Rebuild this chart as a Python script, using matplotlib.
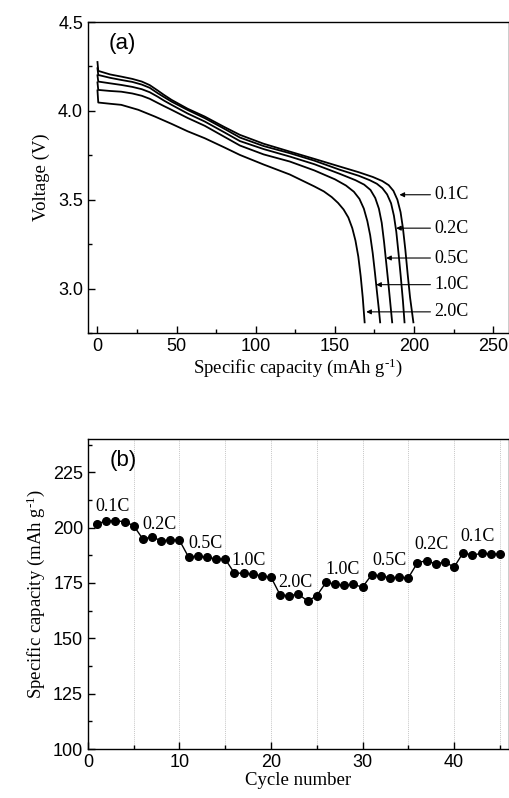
import numpy as np
import matplotlib
matplotlib.use('Agg')
from matplotlib import pyplot as plt
from matplotlib.ticker import MultipleLocator

plt.rcParams['font.family'] = 'Liberation Sans'
plt.rcParams['mathtext.fontset'] = 'custom'
plt.rcParams['mathtext.rm'] = 'Liberation Serif'
plt.rcParams['mathtext.it'] = 'Liberation Serif:italic'
SERIF = 'Liberation Serif'

# (a) curvas de descarga: capacidad (mAh/g) y voltaje (V)
cap_01 = [0, 0.5, 8, 15, 22, 28, 33, 38, 42, 46.8, 57, 67.8, 80, 90, 105, 121.5, 137, 153,
          165, 174, 180, 184, 187, 189.5, 191.5, 193, 194.5, 196, 197.5, 199.6]
v_01 = [4.275, 4.225, 4.205, 4.193, 4.18, 4.165, 4.145, 4.115, 4.09, 4.062, 4.012, 3.968, 3.91,
        3.865, 3.815, 3.771, 3.73, 3.687, 3.655, 3.628, 3.605, 3.582, 3.55, 3.50, 3.43, 3.34,
        3.22, 3.08, 2.95, 2.81]
cap_02 = [0, 0.5, 8, 15, 22, 28, 33, 38, 42, 46.8, 57, 67.8, 80, 90, 105, 121.5, 137, 153,
          165, 172, 176.5, 180, 183, 185.5, 187.3, 188.8, 190.2, 191.6, 193, 194]
v_02 = [4.24, 4.202, 4.186, 4.174, 4.163, 4.148, 4.13, 4.1, 4.078, 4.052, 4.005, 3.959, 3.90,
        3.85, 3.802, 3.762, 3.72, 3.669, 3.635, 3.61, 3.59, 3.565, 3.53, 3.48, 3.41, 3.32,
        3.2, 3.07, 2.93, 2.81]
cap_05 = [0, 0.5, 8, 15, 22, 28, 33, 38, 42, 46.8, 57, 67.8, 80, 90, 105, 121.5, 137, 153,
          163, 168.5, 172.5, 175.5, 177.8, 179.6, 181.1, 182.5, 183.9, 185.1, 186.2]
v_05 = [4.20, 4.165, 4.155, 4.146, 4.135, 4.122, 4.105, 4.08, 4.058, 4.034, 3.985, 3.94, 3.88,
        3.83, 3.785, 3.743, 3.70, 3.646, 3.61, 3.585, 3.555, 3.51, 3.45, 3.37, 3.26, 3.14,
        3.02, 2.91, 2.81]
cap_10 = [0, 0.5, 8, 15, 22, 28, 33, 38, 42, 46.8, 57, 67.8, 80, 90, 105, 121.5, 137, 150,
          157, 162, 165.5, 168.3, 170.5, 172.3, 173.9, 175.3, 176.6, 177.7, 178.6]
v_10 = [4.16, 4.118, 4.112, 4.108, 4.098, 4.085, 4.068, 4.045, 4.027, 4.006, 3.96, 3.916, 3.855,
        3.805, 3.755, 3.715, 3.665, 3.615, 3.58, 3.545, 3.505, 3.45, 3.38, 3.3, 3.2, 3.09,
        2.98, 2.89, 2.81]
cap_20 = [0, 0.5, 8, 15, 25.8, 36.3, 46.8, 57, 67.8, 80, 90, 105, 121.5, 137, 143, 148, 152,
          155.5, 158.5, 161, 163, 164.8, 166.3, 167.6, 168.8]
v_20 = [4.115, 4.047, 4.04, 4.034, 4.006, 3.968, 3.927, 3.885, 3.846, 3.795, 3.752, 3.698, 3.642,
        3.575, 3.547, 3.515, 3.482, 3.445, 3.40, 3.34, 3.27, 3.18, 3.07, 2.95, 2.81]

tasas = ['0.1C', '0.2C', '0.5C', '1.0C', '2.0C']
punta_cap = [190.8, 188.7, 182.4, 176.1, 169.8]   # donde apunta la flecha
punta_v = [3.528, 3.34, 3.172, 3.022, 2.869]
texto_cap = 213

# (b) rate capability
ciclo = np.arange(1, 46)
capac = [201.7, 203.0, 203.0, 202.7, 200.8, 194.8, 195.8, 194.0, 194.5, 194.2,
         186.6, 187.2, 186.5, 185.9, 185.7, 179.4, 179.4, 179.0, 178.2, 177.6,
         169.5, 169.3, 169.9, 166.8, 169.2, 175.2, 174.5, 173.9, 174.3, 173.1,
         178.7, 178.2, 177.3, 177.6, 177.3, 184.1, 185.1, 183.5, 184.5, 182.1,
         188.7, 187.5, 188.4, 188.1, 188.0]
etiq_b = ['0.1C', '0.2C', '0.5C', '1.0C', '2.0C', '1.0C', '0.5C', '0.2C', '0.1C']
etiq_x = [0.8, 5.9, 11.0, 15.7, 20.8, 25.9, 31.1, 35.7, 40.7]
etiq_y = [209.5, 201.2, 192.7, 185.0, 175.2, 181.2, 185.1, 192.5, 196.0]

fig = plt.figure(figsize=(5.10, 7.98), dpi=100)
ax1 = fig.add_axes([0.1725, 0.5827, 0.8255, 0.3897])
ax2 = fig.add_axes([0.1725, 0.0614, 0.8255, 0.3885])

for c, v in [(cap_01, v_01), (cap_02, v_02), (cap_05, v_05), (cap_10, v_10), (cap_20, v_20)]:
    ax1.plot(c, v, color='k', lw=1.3)

for t, xc, yv in zip(tasas, punta_cap, punta_v):
    ax1.annotate(t, xy=(xc, yv), xytext=(texto_cap, yv), va='center', ha='left',
                 family=SERIF, fontsize=13,
                 arrowprops=dict(arrowstyle='-|>', lw=0.8, color='k', mutation_scale=7,
                                 shrinkA=1, shrinkB=0))

etiq_cap = 'Specific capacity (mAh g$^{\\text{-1}}$)'
ax1.set_xlim(-6, 260)
ax1.set_ylim(2.75, 4.5)
ax1.xaxis.set_major_locator(MultipleLocator(50))
ax1.xaxis.set_minor_locator(MultipleLocator(25))
ax1.yaxis.set_major_locator(MultipleLocator(0.5))
ax1.yaxis.set_minor_locator(MultipleLocator(0.25))
ax1.set_xlabel(etiq_cap, family=SERIF, fontsize=13.5, labelpad=1)
ax1.set_ylabel('Voltage (V)', family=SERIF, fontsize=13.5, labelpad=6)
ax1.text(0.048, 0.93, '(a)', transform=ax1.transAxes, fontsize=16, va='center')

ax2.plot(ciclo, capac, color='k', lw=1.0, marker='o', markersize=5.5)
for t, xc, yv in zip(etiq_b, etiq_x, etiq_y):
    ax2.text(xc, yv, t, family=SERIF, fontsize=13, ha='left', va='center')
for xv in range(5, 46, 5):
    ax2.axvline(xv, color='#c8c8c8', lw=0.7, ls=(0, (1, 1)), zorder=0)
ax2.set_xlim(0, 46)
ax2.set_ylim(100, 240)
ax2.xaxis.set_major_locator(MultipleLocator(10))
ax2.xaxis.set_minor_locator(MultipleLocator(5))
ax2.yaxis.set_major_locator(MultipleLocator(25))
ax2.yaxis.set_minor_locator(MultipleLocator(12.5))
ax2.set_xlabel('Cycle number', family=SERIF, fontsize=13.5, labelpad=1)
ax2.set_ylabel(etiq_cap, family=SERIF, fontsize=13.5, labelpad=4)
ax2.text(0.052, 0.932, '(b)', transform=ax2.transAxes, fontsize=16, va='center')

for ax in (ax1, ax2):
    ax.tick_params(which='both', direction='in', top=False, right=False, labelsize=13)
    ax.tick_params(which='major', length=5, width=1)
    ax.tick_params(which='minor', length=3, width=1)
    for s in ax.spines.values():
        s.set_linewidth(1.0)

fig.savefig('out.png', dpi=100)
